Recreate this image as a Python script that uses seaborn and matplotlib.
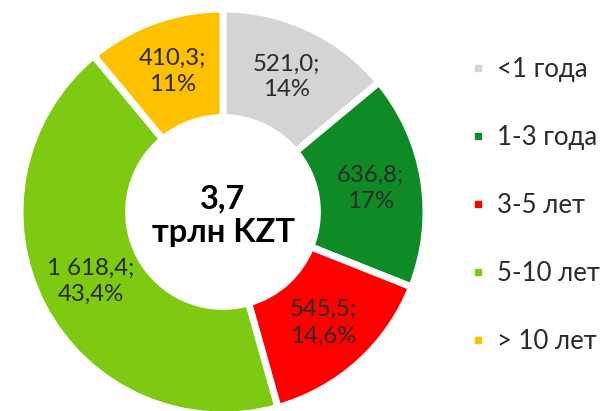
import matplotlib
matplotlib.use('Agg')
import numpy as np
import seaborn as sns
from matplotlib import pyplot as plt
from matplotlib.lines import Line2D

# portfolio by maturity, bln KZT
categories = ['<1 года', '1-3 года', '3-5 лет', '5-10 лет', '> 10 лет']
values = [521.0, 636.8, 545.5, 1618.4, 410.3]
value_labels = ['521,0;', '636,8;', '545,5;', '1 618,4;', '410,3;']
share_labels = ['14%', '17%', '14,6%', '43,4%', '11%']
total_label = '3,7\nтрлн KZT'
colors = ['#D4D4D4', '#0F8B25', '#FF0000', '#7ECA12', '#FFC000']

sns.set_theme(style='white')
plt.rcParams['font.family'] = ['Lato', 'DejaVu Sans']

fig = plt.figure(figsize=(6.06, 4.11), dpi=100)
ax = fig.add_axes([20 / 606, -4 / 411, 406 / 606, 406 / 411])

palette = sns.color_palette(colors)
wedges, _ = ax.pie(values, colors=palette, startangle=90, counterclock=False,
                   radius=1.0,
                   wedgeprops=dict(width=0.535, edgecolor='white', linewidth=5))

# labels in the middle of the ring
cum = np.cumsum([0] + values)
total = sum(values)
for i in range(len(values)):
    mid = (cum[i] + cum[i + 1]) / 2 / total * 2 * np.pi
    ang = np.pi / 2 - mid
    r = 0.735
    ax.text(r * np.cos(ang), r * np.sin(ang), f'{value_labels[i]}\n{share_labels[i]}',
            ha='center', va='center', fontsize=17.3, fontweight='normal',
            color='#2a2a2a', linespacing=1.3)

ax.text(0, -0.02, total_label, ha='center', va='center', fontsize=23.5,
        fontweight='bold', color='black', linespacing=1.2)
ax.set_xlim(-1, 1)
ax.set_ylim(-1, 1)
ax.set_aspect('equal')
ax.axis('off')

handles = [Line2D([0], [0], marker='s', linestyle='none', markersize=5,
                  markerfacecolor=c, markeredgecolor=c) for c in palette]
leg = fig.legend(handles, categories, loc='center left',
                 bbox_to_anchor=(458 / 606, 0.5), frameon=False,
                 borderaxespad=0, labelspacing=1.67, handlelength=0.75,
                 handletextpad=0.35, prop={'weight': 'normal', 'size': 18.5})
for t in leg.get_texts():
    t.set_color('#2a2a2a')

fig.savefig('out.png', dpi=100)
